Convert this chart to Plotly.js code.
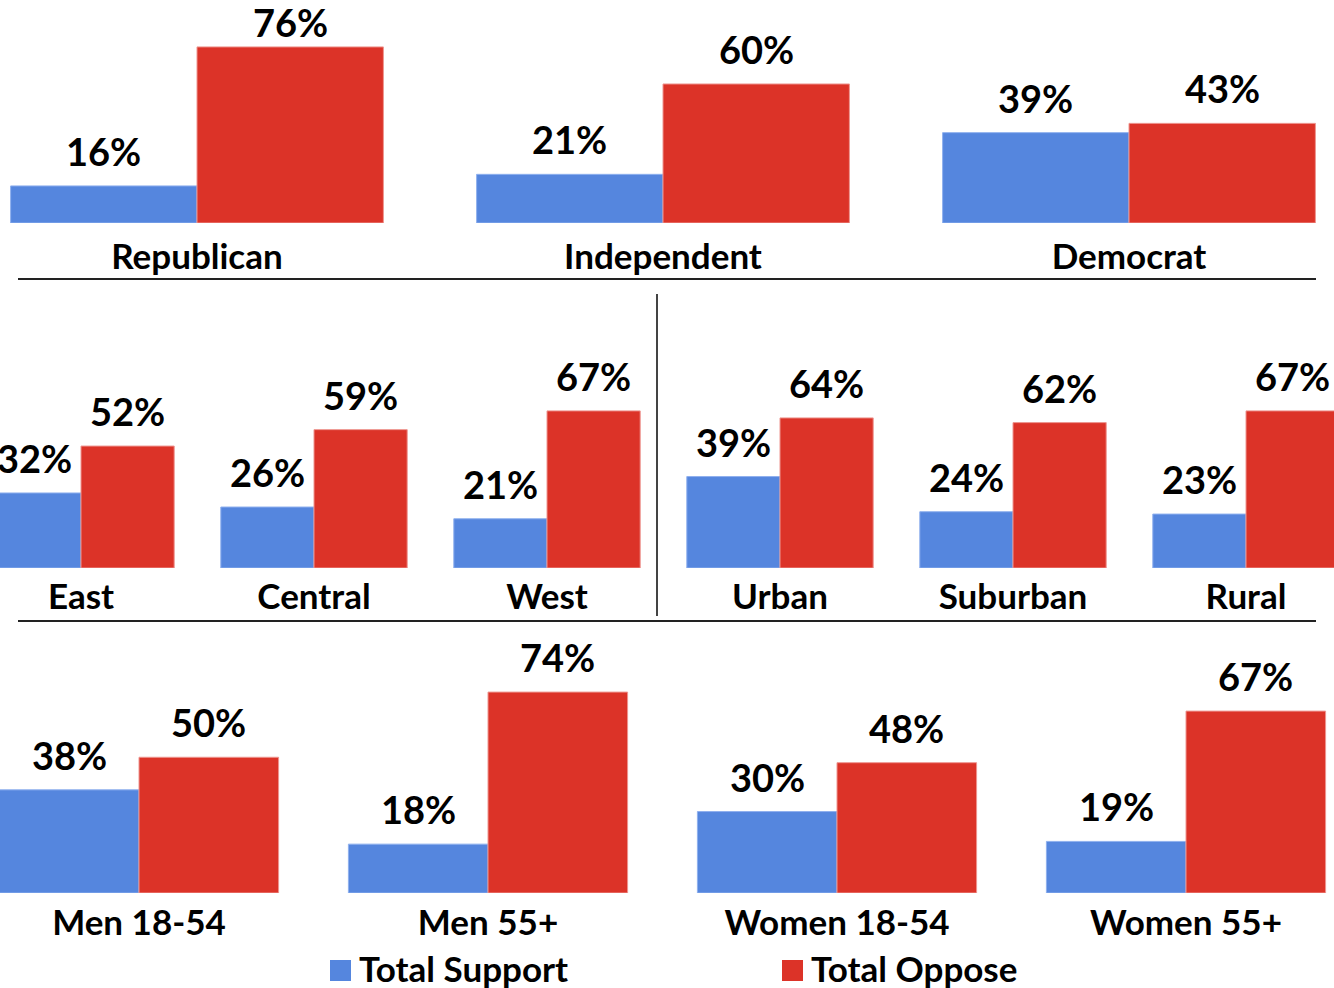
<!DOCTYPE html>
<html>
<head>
<meta charset="utf-8">
<script src="https://cdn.plot.ly/plotly-3.0.1.min.js"></script>
<style>html,body{margin:0;padding:0;background:#fff;}#chart{width:1334px;height:988px;}</style>
</head>
<body>
<div id="chart"></div>
<script>
// ---- data ----
const seriesNames = ['Total Support', 'Total Oppose'];
const groups1 = ['Republican', 'Independent', 'Democrat'];
const support1 = [16, 21, 39];
const oppose1 = [76, 60, 43];
const groups2 = ['East', 'Central', 'West', 'Urban', 'Suburban', 'Rural'];
const support2 = [32, 26, 21, 39, 24, 23];
const oppose2 = [52, 59, 67, 64, 62, 67];
const groups3 = ['Men 18-54', 'Men 55+', 'Women 18-54', 'Women 55+'];
const support3 = [38, 18, 30, 19];
const oppose3 = [50, 74, 48, 67];

// ---- style ----
const BLUE = '#5586DE';
const RED = '#DC3328';
const FONT = 'Lato, "Open Sans", sans-serif';
const W = 1334, H = 988;
const px = v => v / W;            // x pixel -> paper
const py = v => 1 - v / H;        // y pixel -> paper
const BARGAP = 0.2;
const labelFont = {family: FONT, size: 38, color: '#000', weight: 'bold'};
const tickFont = {family: FONT, size: 35, color: '#000', weight: 'bold'};

// panel geometry (pixels): first category centre, category step, baseline, top, px per unit
const panels = [
  {groups: groups1, s: support1, o: oppose1, c0: 197, step: 466, base: 223, top: 0, ppu: 2.317, standoff: 10},
  {groups: groups2, s: support2, o: oppose2, c0: 81, step: 233, base: 568, top: 294, ppu: 2.345, standoff: 5},
  {groups: groups3, s: support3, o: oppose3, c0: 139, step: 349, base: 893, top: 630, ppu: 2.715, standoff: 6}
];

const data = [];
const annotations = [];
const layout = {
  width: W, height: H,
  margin: {l: 0, r: 0, t: 0, b: 0},
  paper_bgcolor: '#fff', plot_bgcolor: 'rgba(0,0,0,0)',
  barmode: 'group', bargap: BARGAP, bargroupgap: 0,
  showlegend: false
};

panels.forEach((p, i) => {
  const n = i === 0 ? '' : String(i + 1);
  const xa = 'x' + n, ya = 'y' + n;
  const yTop = (p.base - p.top) / p.ppu;
  layout['xaxis' + n] = {
    anchor: ya, domain: [0, 1], type: 'category',
    range: [-p.c0 / p.step, (W - p.c0) / p.step],
    showgrid: false, zeroline: false, showline: false, ticks: '',
    tickfont: tickFont, ticklabelstandoff: p.standoff, fixedrange: true
  };
  layout['yaxis' + n] = {
    anchor: xa, domain: [py(p.base), py(p.top)], range: [0, yTop],
    visible: false, showgrid: false, zeroline: false, fixedrange: true
  };
  [[p.s, seriesNames[0], BLUE, '#8fb0ee', -1], [p.o, seriesNames[1], RED, '#ee9690', 1]].forEach(([vals, name, col, lc, side]) => {
    data.push({
      type: 'bar', x: p.groups, y: vals, name: name, xaxis: xa, yaxis: ya,
      marker: {color: col, line: {color: lc, width: 1}},
      hoverinfo: 'skip', showlegend: false
    });
    const half = p.step * (1 - BARGAP) / 4;
    vals.forEach((v, k) => {
      // labels sit ~10px above the bar, but are kept inside the panel (as in the source)
      const room = (yTop - v) * p.ppu - 48;
      annotations.push({
        xref: xa, yref: ya, x: p.groups[k], y: v, xshift: side * half,
        yshift: Math.max(0, Math.min(10, room)),
        xanchor: 'center', yanchor: 'bottom', showarrow: false,
        text: v + '%', font: labelFont
      });
    });
  });
});

layout.shapes = [
  {type: 'line', xref: 'paper', yref: 'paper', x0: px(18), x1: px(1316), y0: py(279), y1: py(279), line: {color: '#222', width: 2}},
  {type: 'line', xref: 'paper', yref: 'paper', x0: px(18), x1: px(1316), y0: py(621), y1: py(621), line: {color: '#222', width: 2}},
  {type: 'line', xref: 'paper', yref: 'paper', x0: px(657), x1: px(657), y0: py(294), y1: py(616), line: {color: '#444', width: 2}},
  {type: 'rect', xref: 'paper', yref: 'paper', x0: px(330), x1: px(351), y0: py(981), y1: py(960), fillcolor: BLUE, line: {width: 0}},
  {type: 'rect', xref: 'paper', yref: 'paper', x0: px(782), x1: px(803), y0: py(981), y1: py(960), fillcolor: RED, line: {width: 0}}
];
annotations.push(
  {xref: 'paper', yref: 'paper', x: px(357), y: py(968), xanchor: 'left', yanchor: 'middle', text: seriesNames[0], showarrow: false, font: tickFont},
  {xref: 'paper', yref: 'paper', x: px(809), y: py(968), xanchor: 'left', yanchor: 'middle', text: seriesNames[1], showarrow: false, font: tickFont}
);
layout.annotations = annotations;

Plotly.newPlot('chart', data, layout, {displayModeBar: false, staticPlot: true});
</script>
</body>
</html>
